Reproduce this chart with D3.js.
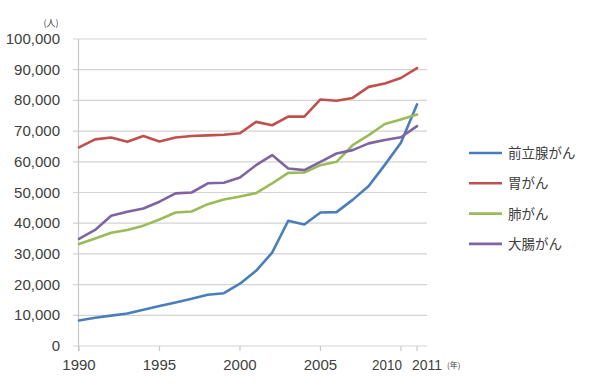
<!DOCTYPE html>
<html><head><meta charset="utf-8">
<script src="https://cdn.jsdelivr.net/npm/d3@7/dist/d3.min.js"></script>
<style>body{margin:0;background:#fff}svg{display:block}</style>
</head><body>
<svg id="c" width="600" height="392"></svg>
<script>
const years = d3.range(1990, 2012);
const seriesNames = ["前立腺がん", "胃がん", "肺がん", "大腸がん"];
const seriesColors = ["#4A7EBB", "#C0504D", "#9BBB59", "#8064A2"];
const prostate = [8300, 9200, 9900, 10600, 11800, 13000, 14200, 15400, 16700, 17200, 20300, 24500, 30400, 40800, 39600, 43500, 43600, 47600, 52100, 59000, 66200, 78700];
const stomach = [64700, 67300, 67900, 66500, 68400, 66600, 67900, 68400, 68600, 68800, 69300, 73000, 71900, 74700, 74700, 80300, 79900, 80800, 84400, 85500, 87300, 90500];
const lung = [33200, 35000, 36900, 37800, 39200, 41200, 43500, 43800, 46200, 47700, 48700, 49800, 53000, 56400, 56500, 58900, 60000, 65400, 68700, 72300, 73800, 75400];
const colon = [34900, 37800, 42400, 43700, 44800, 47000, 49700, 50000, 53000, 53200, 54900, 58900, 62200, 57800, 57300, 60000, 62700, 63800, 66000, 67100, 68000, 71600];
const yTicks = [0, 10000, 20000, 30000, 40000, 50000, 60000, 70000, 80000, 90000, 100000];
const xTicks = [1990, 1995, 2000, 2005, 2010, 2011];
const seriesValues = [prostate, stomach, lung, colon];

const svg = d3.select("#c");
const x = d3.scaleLinear().domain([1990, 2011]).range([79, 417]);
const y = d3.scaleLinear().domain([0, 100000]).range([346, 39]);
const gridRight = 427;
const numFont = "'Liberation Sans', Arial, sans-serif";
const txt = "#404040";

// gridlines
svg.append("g").selectAll("line").data(yTicks).join("line")
  .attr("x1", 73).attr("x2", gridRight)
  .attr("y1", d => y(d)).attr("y2", d => y(d))
  .attr("stroke", "#d4d4d4").attr("stroke-width", 1.2);

// y axis line
svg.append("line").attr("x1", 78.5).attr("x2", 78.5).attr("y1", y(100000)).attr("y2", y(0) + 5)
  .attr("stroke", "#c8c8c8").attr("stroke-width", 1.2);

// x axis ticks
svg.append("g").selectAll("line").data(xTicks).join("line")
  .attr("x1", d => x(d)).attr("x2", d => x(d))
  .attr("y1", y(0)).attr("y2", y(0) + 5)
  .attr("stroke", "#c8c8c8").attr("stroke-width", 1.2);

// y labels
svg.append("g").selectAll("text").data(yTicks).join("text")
  .attr("x", 60).attr("y", d => y(d) + 5)
  .attr("text-anchor", "end").attr("font-family", numFont)
  .attr("font-size", 15).attr("fill", txt)
  .text(d => d3.format(",")(d));

// x labels (2010 / 2011 nudged apart as in the reference)
svg.append("g").selectAll("text").data(xTicks).join("text")
  .attr("x", d => d === 2010 ? x(d) + 1 : d === 2011 ? x(d) - 5 : x(d))
  .attr("y", 370)
  .attr("text-anchor", d => d === 2010 ? "end" : d === 2011 ? "start" : "middle")
  .attr("font-family", numFont)
  .attr("font-size", 15).attr("fill", txt)
  .attr("textLength", d => d >= 2010 ? 30 : null)
  .attr("lengthAdjust", "spacingAndGlyphs")
  .text(d => d);

// units
svg.append("text").attr("x", 51).attr("y", 26).attr("text-anchor", "middle")
  .attr("font-family", "'Noto Sans CJK JP'").attr("font-size", 9).attr("fill", txt).text("(人)");
svg.append("text").attr("x", 447).attr("y", 368).attr("text-anchor", "start")
  .attr("font-family", "'Noto Sans CJK JP'").attr("font-size", 8).attr("fill", txt).text("(年)");

// lines
const line = d3.line().x((d, i) => x(years[i])).y(d => y(d));
svg.append("g").selectAll("path").data(seriesValues).join("path")
  .attr("d", d => line(d)).attr("fill", "none")
  .attr("stroke", (d, i) => seriesColors[i]).attr("stroke-width", 2.6)
  .attr("stroke-linejoin", "round").attr("stroke-linecap", "round");

// legend
const lg = svg.append("g").selectAll("g").data(seriesNames).join("g")
  .attr("transform", (d, i) => `translate(469, ${153 + i * 30.3})`);
lg.append("line").attr("x1", 0).attr("x2", 33).attr("y1", 0).attr("y2", 0)
  .attr("stroke", (d, i) => seriesColors[i]).attr("stroke-width", 2.6);
lg.append("text").attr("x", 39).attr("y", 5)
  .attr("font-family", "'Noto Sans CJK JP'").attr("font-size", 13.5).attr("fill", txt)
  .text(d => d);
</script>
</body></html>
